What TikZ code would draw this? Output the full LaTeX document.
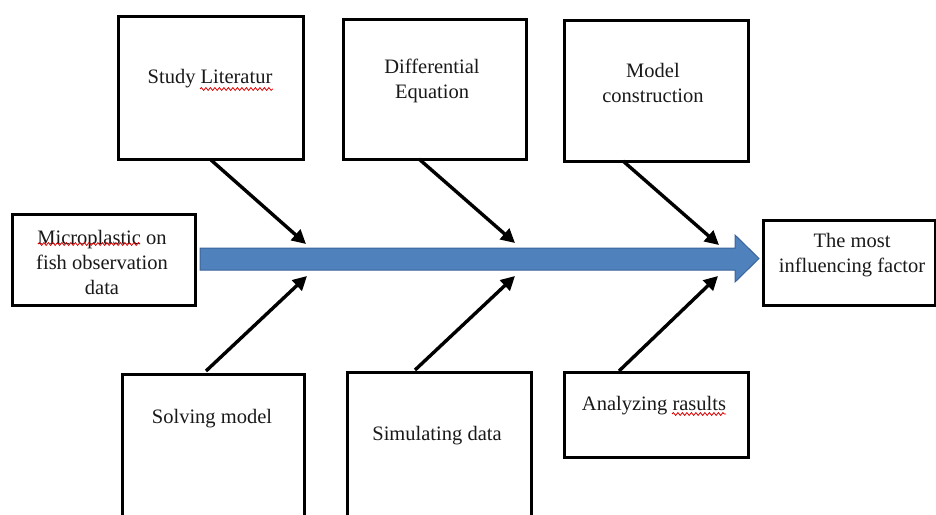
\documentclass[tikz,border=0pt]{standalone}
\usepackage{fontspec}
\setmainfont{Liberation Serif}
\usetikzlibrary{arrows.meta,decorations.pathmorphing}
\definecolor{spine}{HTML}{4F81BD}
\definecolor{spineedge}{HTML}{3A6499}
\begin{document}
\begin{tikzpicture}[x=1pt,y=-1pt,
  boxnode/.style={draw=black,line width=2.9pt,fill=white,inner sep=0pt,anchor=north west},
  txt/.style={font=\fontsize{20.5}{25}\selectfont,align=center,inner sep=0pt,text=black!90},
  bone/.style={line width=3.4pt,-{Triangle[length=14pt,width=14pt]}},
  squiggle/.style={draw=red!85!black,line width=0.8pt,decorate,decoration={snake,amplitude=1.4pt,segment length=4.5pt}}]
\useasboundingbox (0,0) rectangle (936,514);
\clip (0,0) rectangle (936,514);
\fill[white] (0,0) rectangle (936,514);
% boxes
\node[boxnode,minimum width=183pt,minimum height=91pt] (src) at (11,213) {};
\node[boxnode,minimum width=172pt,minimum height=85pt] (dst) at (762,219) {};
\node[boxnode,minimum width=185pt,minimum height=143pt] (b1) at (117,15) {};
\node[boxnode,minimum width=183pt,minimum height=140pt] (b2) at (342,18) {};
\node[boxnode,minimum width=184pt,minimum height=141pt] (b3) at (563,19) {};
\node[boxnode,minimum width=182pt,minimum height=160pt] (b4) at (121,373) {};
\node[boxnode,minimum width=184pt,minimum height=160pt] (b5) at (346,371) {};
\node[boxnode,minimum width=184pt,minimum height=85pt] (b6) at (563,371) {};
% texts
\node[txt] (tsrc) at (102,262) {Microplastic on\\fish observation\\data};
\node[txt] (tdst) at (852,255) {The most\\influencing factor};
\node[txt] (t1) at (210,79) {Study Literatur};
\node[txt] (t2) at (432,81) {Differential\\Equation};
\node[txt] (t3) at (653,83) {Model\\construction};
\node[txt] (t4) at (212,419) {Solving model};
\node[txt] (t5) at (437,436) {Simulating data};
\node[txt] (t6) at (654,406) {Analyzing rasults};
% spell-check underlines
\draw[squiggle] (38,244) -- (140,244);
\draw[squiggle] (200,89) -- (273,89);
\draw[squiggle] (672,414) -- (726,414);
% spine
\draw[spineedge,line width=1pt,fill=spine]
  (200,248) -- (735,248) -- (735,235) -- (759,258.5) -- (735,282) -- (735,270) -- (200,270) -- cycle;
% tip coordinates
\coordinate (p1) at (306,244);
\coordinate (p2) at (515,243);
\coordinate (p3) at (719,245);
\coordinate (q1) at (307,276);
\coordinate (q2) at (515,276);
\coordinate (q3) at (718,276);
\coordinate (s1) at (211,160);
\coordinate (s2) at (419,159);
\coordinate (s3) at (623,161);
\coordinate (r1) at (206,371);
\coordinate (r2) at (415,370);
\coordinate (r3) at (619,371);
\draw[bone] (s1) -- (p1);
\draw[bone] (s2) -- (p2);
\draw[bone] (s3) -- (p3);
\draw[bone] (r1) -- (q1);
\draw[bone] (r2) -- (q2);
\draw[bone] (r3) -- (q3);
\end{tikzpicture}
\end{document}
